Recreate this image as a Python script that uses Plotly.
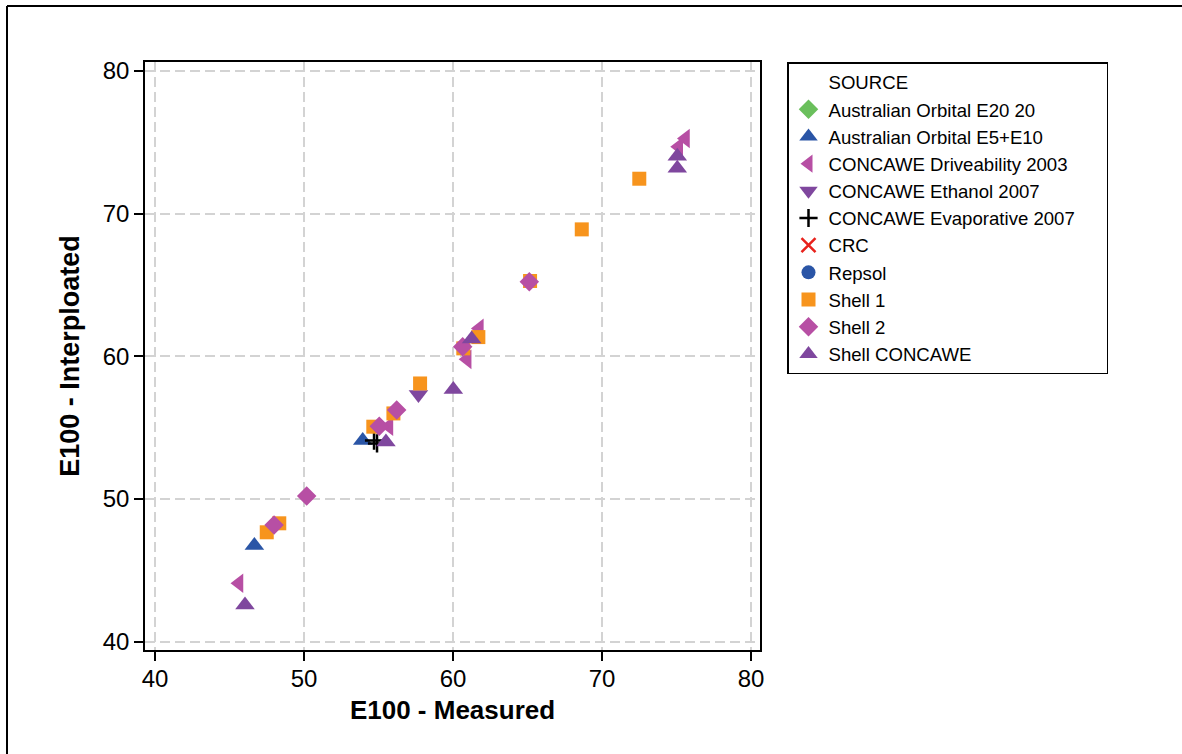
import plotly.graph_objects as go

# series values (E100 measured vs interpolated)
e20_x = [None]
e20_y = [None]
aus_x = [46.67, 53.94]
aus_y = [46.75, 54.10]
drive_x = [45.64, 55.70, 60.95, 61.77, 75.15, 75.60]
drive_y = [44.10, 55.10, 59.79, 61.96, 74.69, 75.27]
eth_x = [57.68]
eth_y = [57.32]
evap_x = [54.70, 54.90]
evap_y = [54.10, 53.90]
crc_x = [None]
crc_y = [None]
repsol_x = [None]
repsol_y = [None]
shell1_x = [47.50, 48.34, 54.65, 56.00, 57.79, 60.69, 61.70, 65.17, 68.64, 72.50]
shell1_y = [47.67, 48.30, 55.07, 56.00, 58.10, 60.56, 61.35, 65.28, 68.90, 72.45]
shell2_x = [47.99, 50.18, 55.05, 56.22, 60.65, 65.12]
shell2_y = [48.18, 50.21, 55.10, 56.24, 60.67, 65.23]
shellc_x = [46.04, 55.50, 60.02, 61.25, 75.05, 75.05]
shellc_y = [42.58, 54.00, 57.68, 61.22, 74.03, 73.19]

tick_vals = [40, 50, 60, 70, 80]

orange = '#F7941D'
blue = '#2A55A6'
purple = '#7F479E'
pink = '#B74FA4'
green = '#6ABF5C'
red = '#E8221C'

fig = go.Figure()

# legend header drawn as an invisible entry so it lines up with the item text
fig.add_trace(go.Scatter(x=[None], y=[None], mode='markers', name='SOURCE',
                         marker=dict(color='rgba(0,0,0,0)', size=1)))

series = [
    ('Australian Orbital E20 20', e20_x, e20_y, 'diamond', green, 15),
    ('Australian Orbital E5+E10', aus_x, aus_y, 'triangle-up', blue, 17),
    ('CONCAWE Driveability 2003', drive_x, drive_y, 'triangle-left', pink, 17),
    ('CONCAWE Ethanol 2007', eth_x, eth_y, 'triangle-down', purple, 17),
    # trailing nbsp widens the legend box like the original
    ('CONCAWE Evaporative 2007' + '\u00a0' * 5, evap_x, evap_y, 'cross-thin', 'black', 13),
    ('CRC', crc_x, crc_y, 'x-thin', red, 14),
    ('Repsol', repsol_x, repsol_y, 'circle', blue, 14),
    ('Shell 1', shell1_x, shell1_y, 'square', orange, 14),
    ('Shell 2', shell2_x, shell2_y, 'diamond', pink, 15),
    ('Shell CONCAWE', shellc_x, shellc_y, 'triangle-up', purple, 17),
]

for name, xs, ys, sym, col, sz in series:
    if sym.endswith('-thin'):
        mk = dict(symbol=sym, size=sz, color=col, line=dict(color=col, width=2.5))
    else:
        mk = dict(symbol=sym, size=sz, color=col, line=dict(width=0))
    fig.add_trace(go.Scatter(x=xs, y=ys, mode='markers', name=name, marker=mk))

axis_style = dict(
    tickvals=tick_vals, showline=True, linecolor='black', linewidth=1.5, mirror=True,
    ticks='outside', ticklen=9, tickwidth=1.5, tickcolor='black',
    showgrid=True, gridcolor='#D3D3D3', gridwidth=2, griddash='10px,5px',
    zeroline=False, tickfont=dict(size=24, color='black'),
)

fig.update_xaxes(range=[39.33, 80.6], ticklabelstandoff=-3,
                 title=dict(text='<b>E100 - Measured</b>',
                            font=dict(size=26, color='black'), standoff=10), **axis_style)
fig.update_yaxes(range=[39.42, 80.63], title=dict(text='<b>E100 - Interploated</b>',
                 font=dict(size=27, color='black'), standoff=15), **axis_style)

# outer frame of the original graphic (left and top edges visible)
pl, pw, pt, ph = 145, 615, 62, 588
bx = (7 - pl) / pw
by = (pt + ph - 6) / ph
fig.add_shape(type='line', xref='paper', yref='paper', x0=bx, x1=bx, y0=-0.5, y1=by,
              line=dict(color='black', width=2))
fig.add_shape(type='line', xref='paper', yref='paper', x0=bx, x1=2.0, y0=by, y1=by,
              line=dict(color='black', width=2))

fig.update_layout(
    width=1182, height=754,
    margin=dict(l=145, r=422, t=62, b=104),
    paper_bgcolor='white', plot_bgcolor='white',
    font=dict(family='Liberation Sans', color='black'),
    showlegend=True,
    legend=dict(x=(787 - pl) / pw, y=1, xanchor='left', yanchor='top',
                bordercolor='black', borderwidth=1.5, bgcolor='white',
                font=dict(size=18.6), tracegroupgap=0),
)

fig.write_html("out.html", config={'displayModeBar': False},
               post_script="document.body.style.margin='0';")
